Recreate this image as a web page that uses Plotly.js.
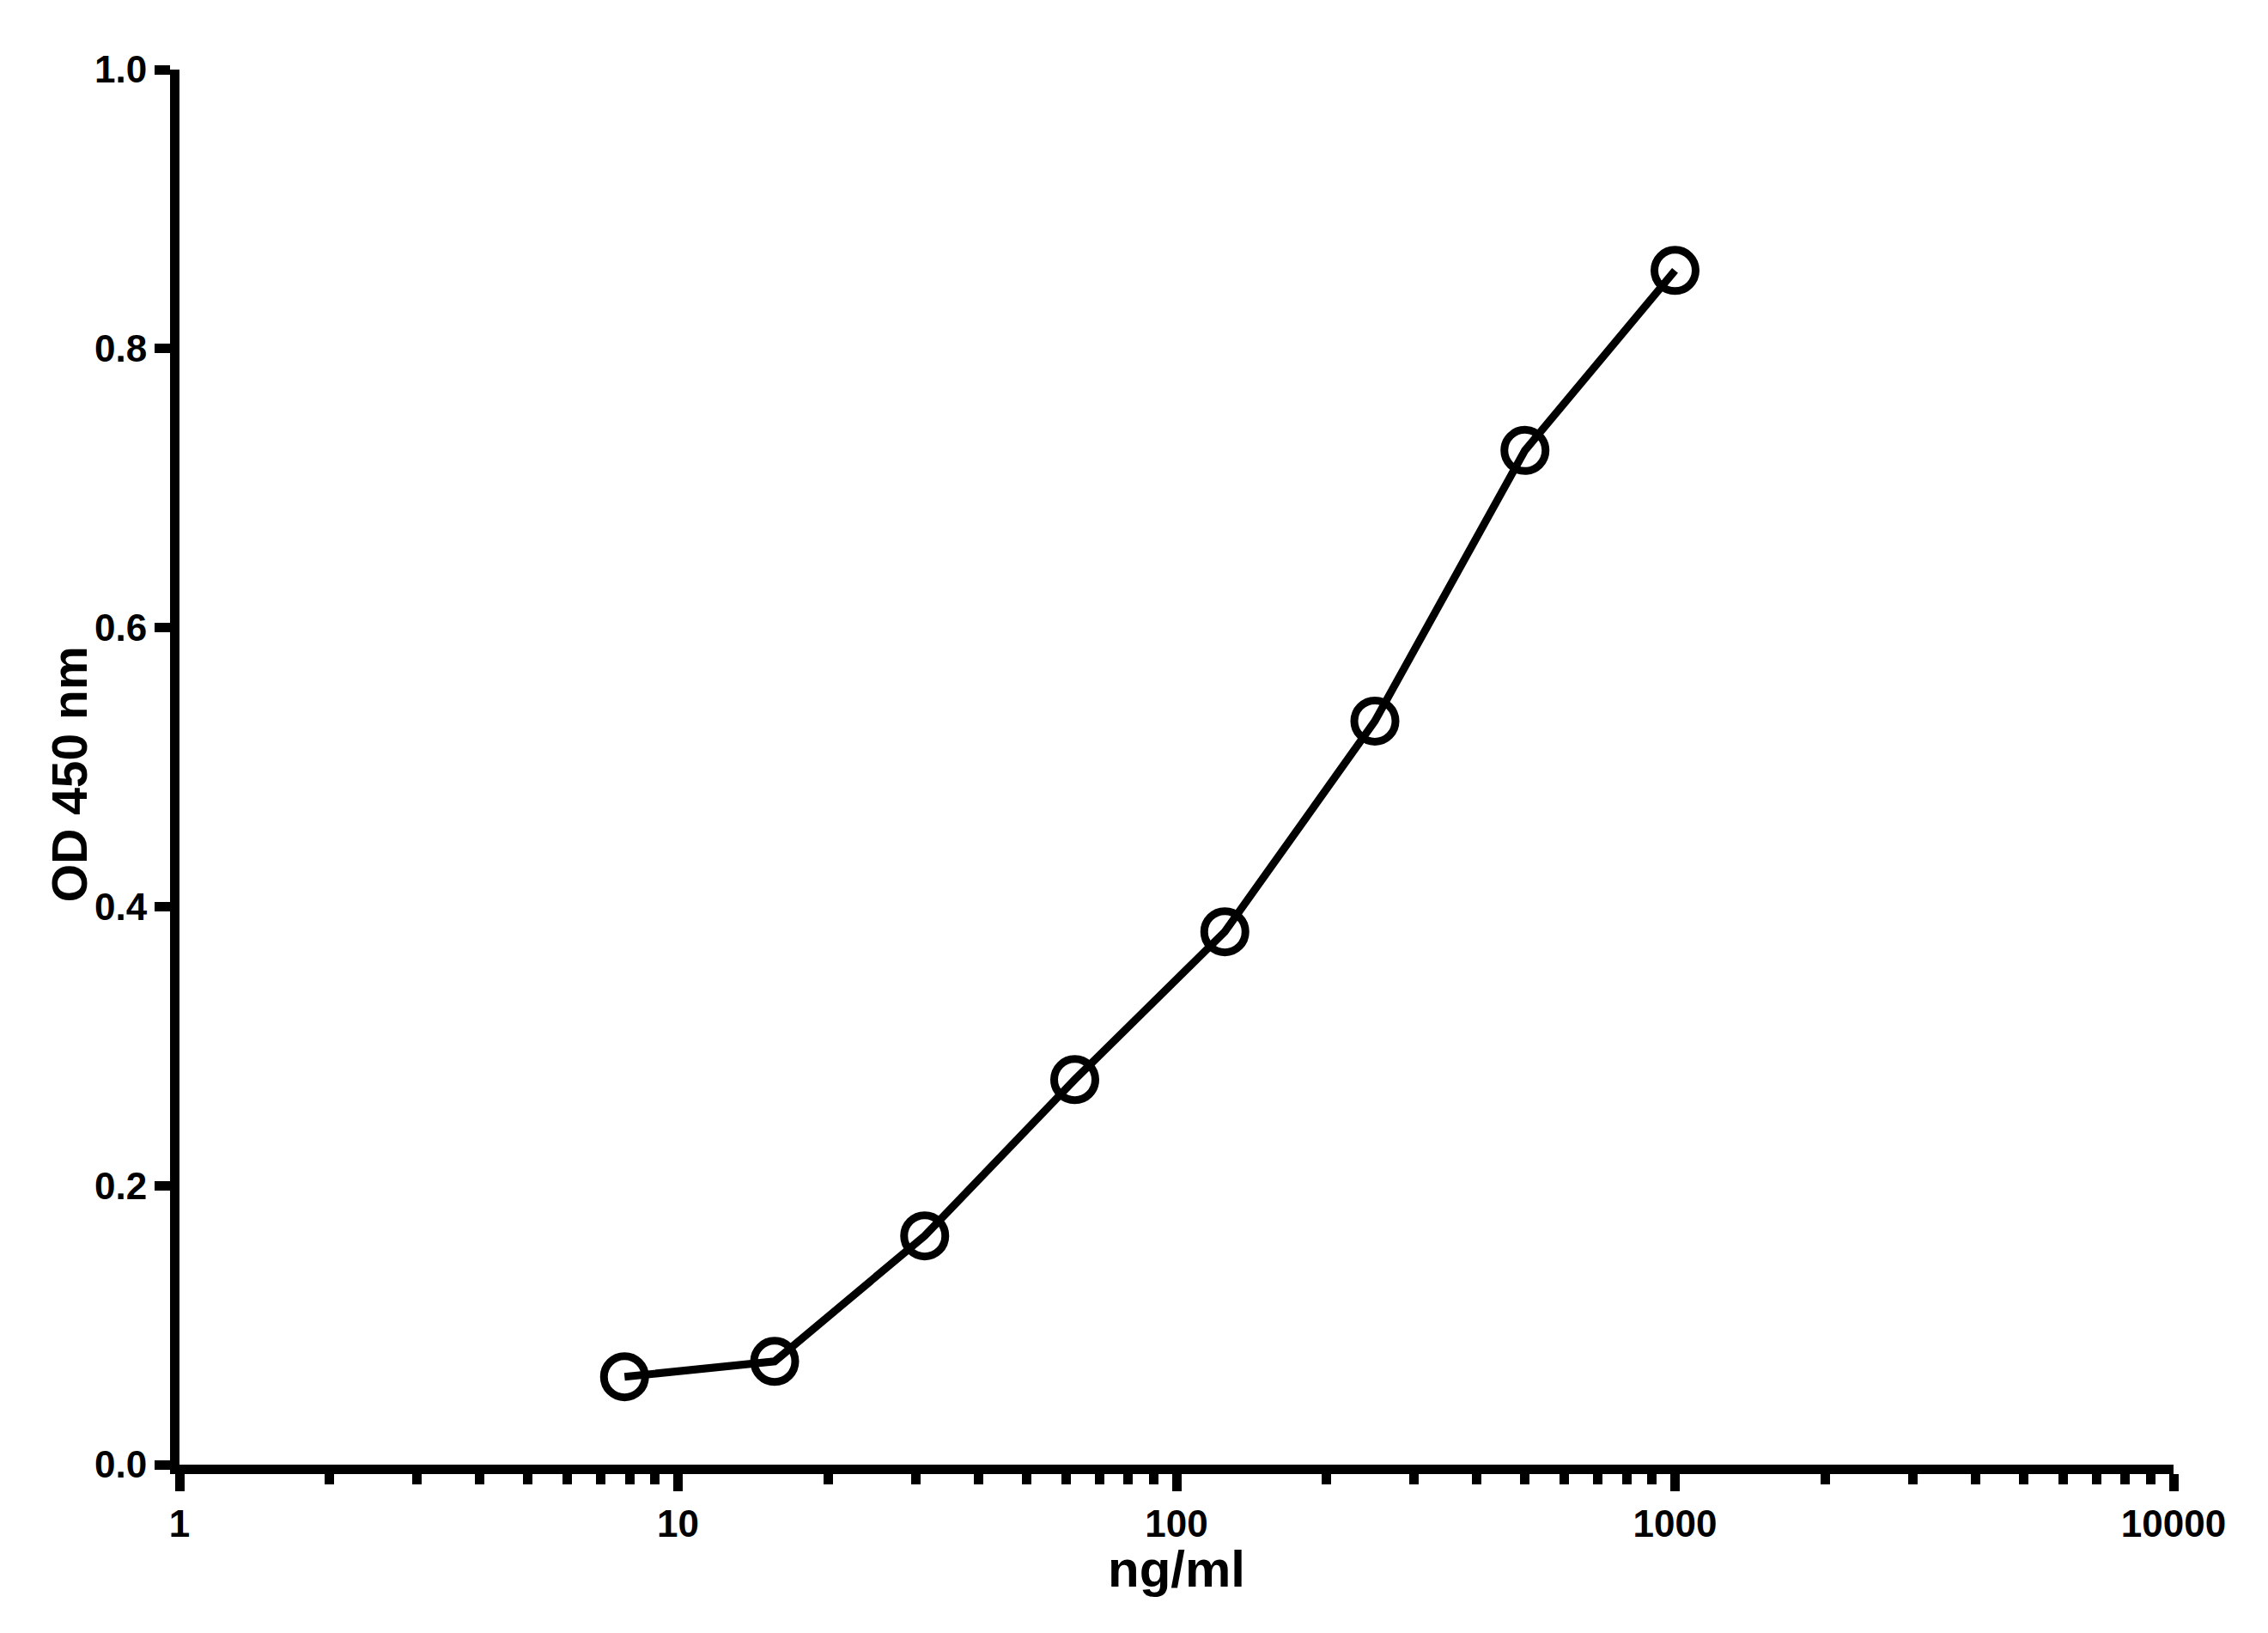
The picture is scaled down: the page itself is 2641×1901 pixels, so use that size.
<!DOCTYPE html>
<html>
<head>
<meta charset="utf-8">
<script src="https://cdn.plot.ly/plotly-3.0.1.min.js"></script>
<style>
  html, body { margin: 0; padding: 0; background: #fff; }
  #chart { width: 2641px; height: 1901px; }
</style>
</head>
<body>
<div id="chart"></div>
<script>
// Data
const concentration = [7.8125, 15.625, 31.25, 62.5, 125, 250, 500, 1000]; // ng/ml
const od450 = [0.063, 0.074, 0.164, 0.276, 0.382, 0.533, 0.727, 0.856];

// Axis tick labels and titles
const xTickVals = [1, 10, 100, 1000, 10000];
const xTickText = ['1', '10', '100', '1000', '10000'];
const yTickVals = [0.0, 0.2, 0.4, 0.6, 0.8, 1.0];
const yTickText = ['0.0', '0.2', '0.4', '0.6', '0.8', '1.0'];
const xTitle = 'ng/ml';
const yTitle = 'OD 450 nm';

// minor tick positions on the log axis (2..9 in each decade)
const xMinorVals = [];
for (const dec of [1, 10, 100, 1000]) {
  for (let k = 2; k <= 9; k++) xMinorVals.push(k * dec);
}

const FONT = '"Liberation Sans", Arial, Helvetica, sans-serif';

const trace = {
  x: concentration,
  y: od450,
  type: 'scatter',
  mode: 'lines+markers',
  line: { color: '#000', width: 9 },
  marker: {
    symbol: 'circle-open',
    size: 48,
    color: '#000',
    line: { color: '#000', width: 9 }
  },
  showlegend: false,
  cliponaxis: false
};

const layout = {
  width: 2641,
  height: 1901,
  paper_bgcolor: '#fff',
  plot_bgcolor: '#fff',
  margin: { l: 209, r: 110, t: 81, b: 196, pad: 0 },
  showlegend: false,
  xaxis: {
    type: 'log',
    range: [0, 4],
    showgrid: false,
    zeroline: false,
    showline: true,
    linecolor: '#000',
    linewidth: 11,
    ticks: 'outside',
    ticklen: 20,
    tickwidth: 11,
    tickcolor: '#000',
    tickmode: 'array',
    tickvals: xTickVals,
    ticktext: xTickText,
    tickfont: { family: FONT, size: 44, color: '#000', weight: 'bold' },
    minor: {
      tickmode: 'array',
      tickvals: xMinorVals,
      ticks: 'outside',
      ticklen: 12,
      tickwidth: 11,
      tickcolor: '#000',
      showgrid: false
    },
    automargin: false,
    fixedrange: true
  },
  yaxis: {
    range: [0, 1],
    showgrid: false,
    zeroline: false,
    showline: true,
    linecolor: '#000',
    linewidth: 11,
    ticks: 'outside',
    ticklen: 18,
    tickwidth: 11,
    tickcolor: '#000',
    tickmode: 'array',
    tickvals: yTickVals,
    ticktext: yTickText,
    tickfont: { family: FONT, size: 44, color: '#000', weight: 'bold' },
    automargin: false,
    fixedrange: true
  },
  annotations: [
    {
      text: '<b>' + xTitle + '</b>',
      xref: 'paper', yref: 'paper',
      x: 0.5, y: -0.0751,
      xanchor: 'center', yanchor: 'middle',
      showarrow: false,
      font: { family: FONT, size: 60, color: '#000' }
    },
    {
      text: '<b>' + yTitle + '</b>',
      xref: 'paper', yref: 'paper',
      x: -0.0551, y: 0.495,
      xanchor: 'center', yanchor: 'middle',
      textangle: -90,
      showarrow: false,
      font: { family: FONT, size: 57, color: '#000' }
    }
  ]
};

Plotly.newPlot('chart', [trace], layout, { staticPlot: true, displayModeBar: false });
</script>
</body>
</html>
